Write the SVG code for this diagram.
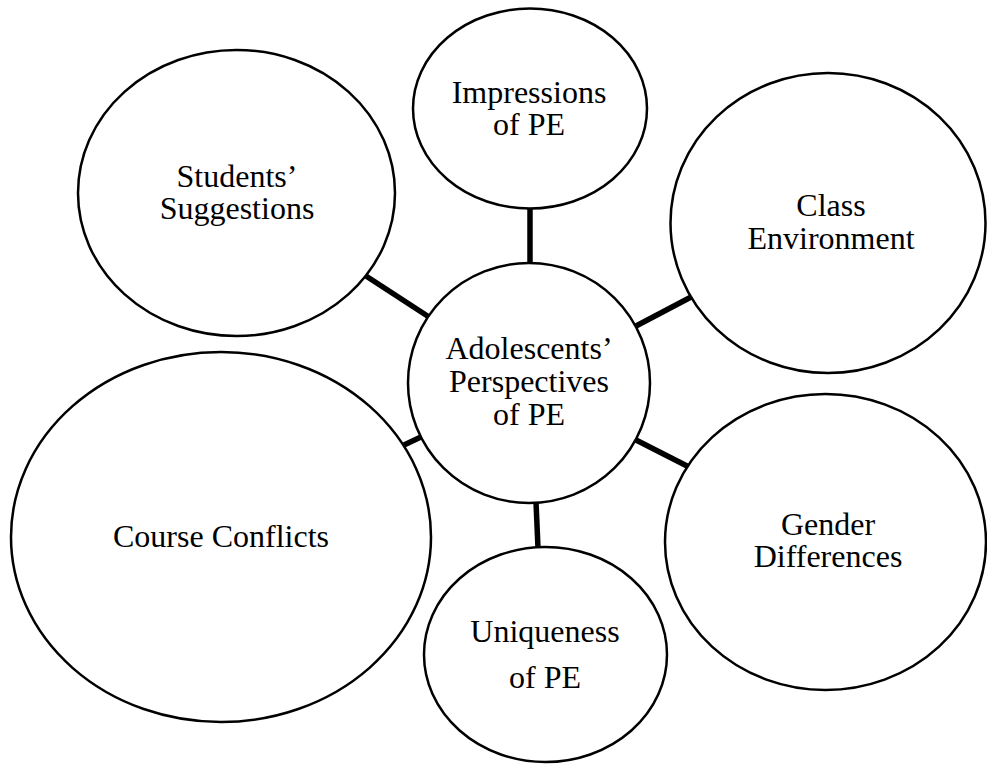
<svg xmlns="http://www.w3.org/2000/svg" width="987" height="764" viewBox="0 0 987 764">
<style>
.n{fill:#fff;stroke:#000;stroke-width:2.5}
.t{font-family:"Liberation Serif","Times New Roman",serif;font-size:32px;fill:#000;text-anchor:middle}
.c line{stroke:#000;stroke-width:5.5}
</style>
<rect width="987" height="764" fill="#fff"/>
<g class="c" id="connectors">
<line x1="530" y1="207" x2="530" y2="264"/>
<line x1="366" y1="276" x2="429" y2="317"/>
<line x1="636" y1="326" x2="693" y2="296"/>
<line x1="636" y1="440" x2="689" y2="467"/>
<line x1="536" y1="502" x2="538" y2="548"/>
<line x1="404" y1="445" x2="423" y2="436"/>
</g>
<g id="impressions">
<ellipse class="n" cx="530" cy="108.5" rx="117" ry="100"/>
<text class="t" x="529" y="103">Impressions</text>
<text class="t" x="529" y="135">of PE</text>
</g>
<g id="students">
<ellipse class="n" cx="236.5" cy="193" rx="158.5" ry="143"/>
<text class="t" x="237" y="187">Students’</text>
<text class="t" x="237" y="219">Suggestions</text>
</g>
<g id="class">
<ellipse class="n" cx="828" cy="223" rx="157.5" ry="150"/>
<text class="t" x="831" y="216">Class</text>
<text class="t" x="831" y="249">Environment</text>
</g>
<g id="gender">
<ellipse class="n" cx="825.5" cy="542" rx="160.5" ry="148"/>
<text class="t" x="828" y="535">Gender</text>
<text class="t" x="828" y="567">Differences</text>
</g>
<g id="course">
<ellipse class="n" cx="221" cy="537" rx="210" ry="185"/>
<text class="t" x="221" y="547">Course Conflicts</text>
</g>
<g id="uniqueness">
<ellipse class="n" cx="545.5" cy="654.5" rx="121.5" ry="107.5"/>
<text class="t" x="545" y="642">Uniqueness</text>
<text class="t" x="545" y="688">of PE</text>
</g>
<g id="center">
<ellipse class="n" cx="529" cy="383" rx="121" ry="120"/>
<text class="t" x="529" y="359">Adolescents’</text>
<text class="t" x="529" y="392">Perspectives</text>
<text class="t" x="529" y="425">of PE</text>
</g>
</svg>
